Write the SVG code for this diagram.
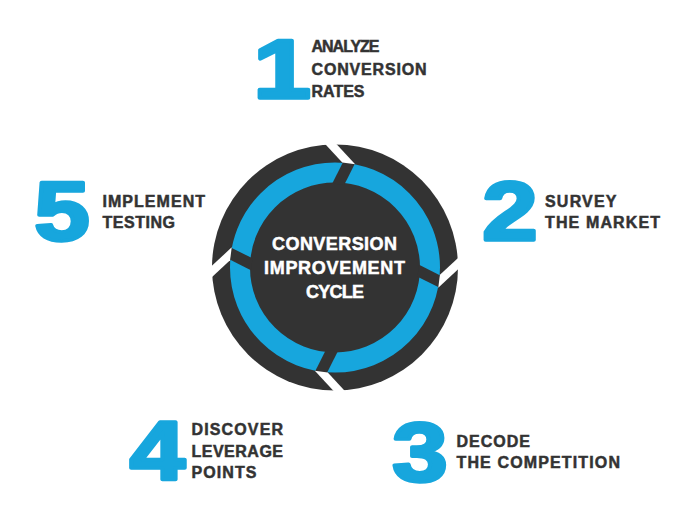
<svg xmlns="http://www.w3.org/2000/svg" width="700" height="522" viewBox="0 0 700 522">
  <style>
    .digit { font-family: "Liberation Sans", Arial, sans-serif; font-weight: 700; font-size: 83px; fill: #17a6dd; stroke: #17a6dd; stroke-width: 3.5; stroke-linejoin: round; text-anchor: middle; }
    .lbl { font-family: "Liberation Sans", Arial, sans-serif; font-weight: 700; font-size: 16px; fill: #333333; stroke: #333333; stroke-width: 0.5; }
    .ctr { font-family: "Liberation Sans", Arial, sans-serif; font-weight: 700; font-size: 18px; fill: #ffffff; stroke: #ffffff; stroke-width: 0.5; text-anchor: middle; }
    .dark { fill: #333333; }
    .blue { fill: none; stroke: #17a6dd; stroke-width: 20; }
    .gapw { fill: #ffffff; }
  </style>
  <defs>
    <g id="cut">
      <polygon class="dark" points="-5.3,-107 6.7,-107 -1.7,-83 -13.7,-83"/>
      <polygon class="gapw" points="-33,-127 -20,-127 6.5,-105 -6.5,-105"/>
    </g>
  </defs>
  <rect width="700" height="522" fill="#ffffff"/>

  <g id="cycle">
    <g transform="translate(335,267.5)">
      <circle r="123" class="dark"/>
      <circle r="95" class="blue"/>
      <use href="#cut" transform="rotate(7.5)"/>
      <use href="#cut" transform="rotate(97.5)"/>
      <use href="#cut" transform="rotate(187.5)"/>
      <use href="#cut" transform="rotate(277.5)"/>
    </g>
    <text class="ctr" x="334.5" y="250" textLength="125">CONVERSION</text>
    <text class="ctr" x="334.5" y="274" textLength="141">IMPROVEMENT</text>
    <text class="ctr" x="335" y="298" textLength="58">CYCLE</text>
  </g>

  <g id="connectors"></g>

  <g id="step1">
    <text class="digit" transform="translate(282,98.25) scale(1.25,1)">1</text>
    <text class="lbl" x="311.5" y="52" textLength="68">ANALYZE</text>
    <text class="lbl" x="311.5" y="74.5" textLength="115">CONVERSION</text>
    <text class="lbl" x="311.5" y="96.5" textLength="53">RATES</text>
  </g>

  <g id="step2">
    <text class="digit" transform="translate(510,240) scale(1.2,1)">2</text>
    <text class="lbl" x="545" y="206.5" textLength="71.5">SURVEY</text>
    <text class="lbl" x="545" y="227.5" textLength="115">THE MARKET</text>
  </g>

  <g id="step3">
    <text class="digit" transform="translate(420,481) scale(1.2,1)">3</text>
    <text class="lbl" x="456.5" y="446.5" textLength="73.5">DECODE</text>
    <text class="lbl" x="456.5" y="468" textLength="163.5">THE COMPETITION</text>
  </g>

  <g id="step4">
    <text class="digit" transform="translate(157.5,480) scale(1.2,1)">4</text>
    <text class="lbl" x="191.5" y="435" textLength="91.5">DISCOVER</text>
    <text class="lbl" x="191.5" y="456.5" textLength="91.5">LEVERAGE</text>
    <text class="lbl" x="191.5" y="478" textLength="65">POINTS</text>
  </g>

  <g id="step5">
    <text class="digit" transform="translate(62,240) scale(1.2,1)">5</text>
    <text class="lbl" x="102.5" y="206.5" textLength="102.5">IMPLEMENT</text>
    <text class="lbl" x="102.5" y="227.5" textLength="72.5">TESTING</text>
  </g>
</svg>
